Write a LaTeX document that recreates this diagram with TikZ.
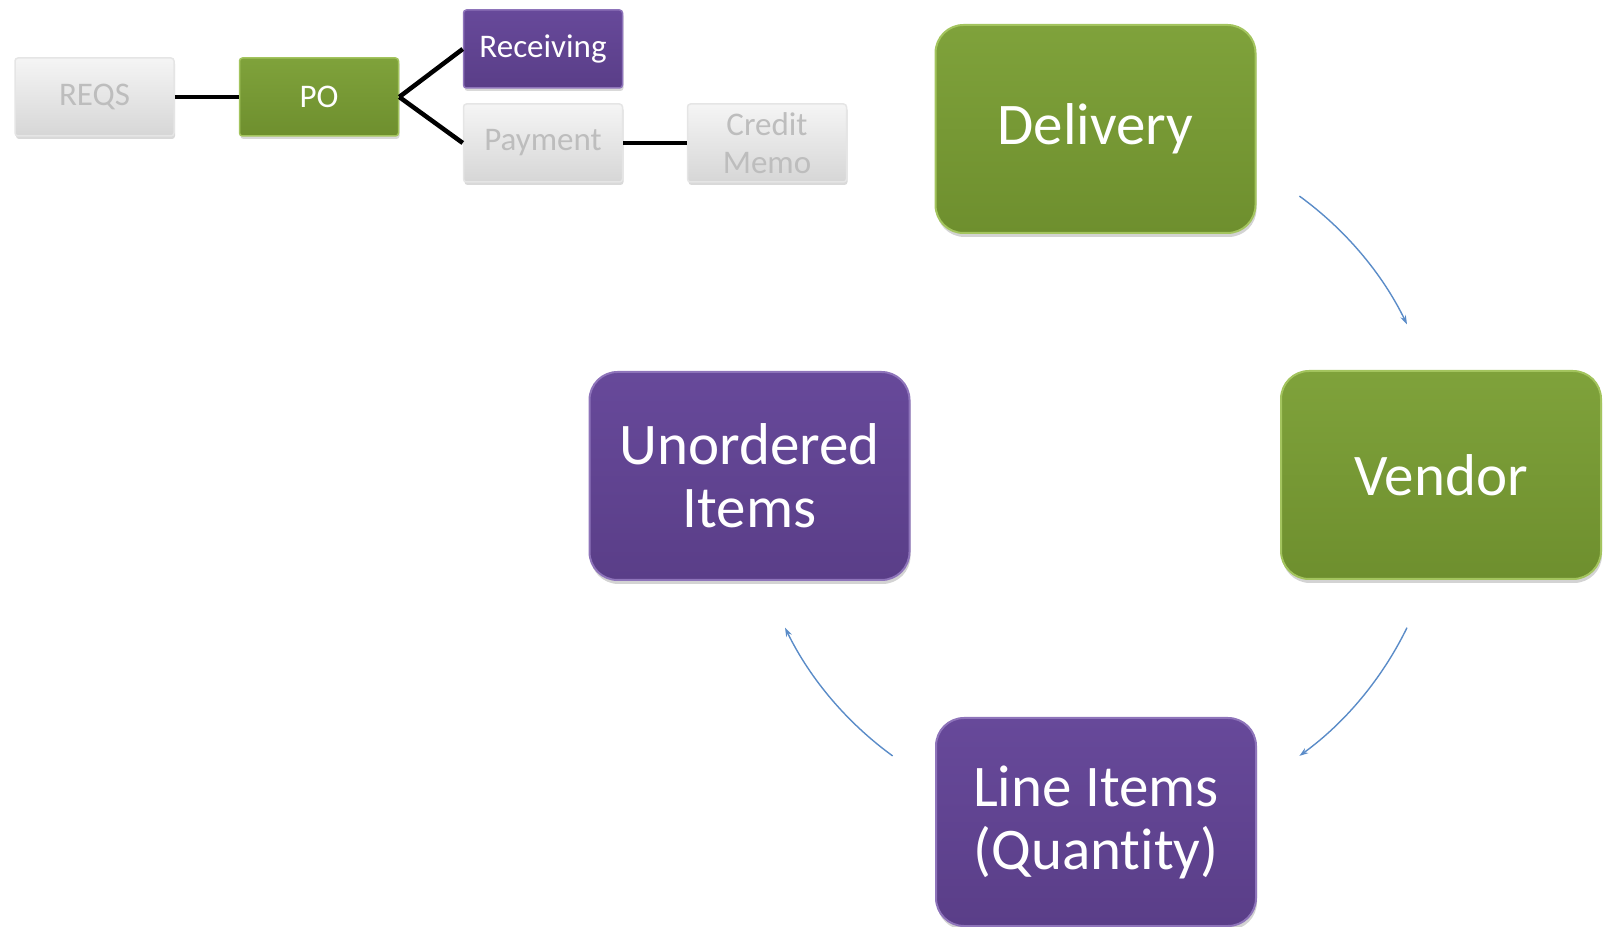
\documentclass[tikz,border=0pt]{standalone}
\usepackage{fontspec}
\setmainfont{Carlito}[Ligatures=NoCommon]
\usetikzlibrary{shadows,arrows.meta}

\definecolor{olivetop}{HTML}{7FA23B}
\definecolor{olivebot}{HTML}{6E8F2E}
\definecolor{oliveedge}{HTML}{A3C45E}
\definecolor{plumtop}{HTML}{67499A}
\definecolor{plumbot}{HTML}{5A3E88}
\definecolor{plumedge}{HTML}{8E74BA}
\definecolor{greytext}{HTML}{BDBDBD}
\definecolor{flowblue}{HTML}{5B8CC8}

\tikzset{
  bigbox/.style={rounded corners=28pt, minimum width=320pt, minimum height=208pt,
    align=center, text=white, line width=2pt, font=\fontsize{59}{63}\selectfont,
    drop shadow={shadow xshift=1pt, shadow yshift=-4pt, opacity=0.35}},
  smallbox/.style={rounded corners=3pt, minimum width=159pt, minimum height=78pt,
    align=center, line width=1.5pt, font=\fontsize{33}{38}\selectfont,
    drop shadow={shadow xshift=1pt, shadow yshift=-3pt, opacity=0.3}},
  greenbox/.style={top color=olivetop, bottom color=olivebot, draw=oliveedge, text=white},
  purplebox/.style={top color=plumtop, bottom color=plumbot, draw=plumedge, text=white},
  greybox/.style={top color=white!96!black, bottom color=white!84!black, draw=white!90!black, text=greytext},
  link/.style={line width=4.5pt, black},
  flow/.style={-{Stealth[length=9pt,width=6pt]}, line width=1.4pt, flowblue}
}

\begin{document}
\begin{tikzpicture}[x=1pt, y=1pt]
  \useasboundingbox (0,0) rectangle (1605,926);

  % document chain
  \node[smallbox, greybox] (reqs) at (94.5,829) {REQS};
  \node[smallbox, greenbox] (po) at (319,829) {PO};
  \node[smallbox, purplebox] (recv) at (543,877) {Receiving};
  \node[smallbox, greybox] (pay) at (543,783) {Payment};
  \node[smallbox, greybox] (memo) at (767,783) {Credit\\Memo};

  \draw[link] (reqs.east) -- (po.west);
  \draw[link] (po.east) -- (recv.west);
  \draw[link] (po.east) -- (pay.west);
  \draw[link] (pay.east) -- (memo.west);

  % receiving cycle
  \coordinate (cyc) at (1096,450);
  \node[bigbox, greenbox] (delivery) at (1095.5,797) {Delivery};
  \node[bigbox, greenbox] (vendor) at (1441,451) {Vendor};
  \node[bigbox, purplebox] (lineitems) at (1096,104) {Line Items\\(Quantity)};
  \node[bigbox, purplebox] (unordered) at (749.5,450) {Unordered\\Items};

  \draw[flow] (cyc) ++(54:346) arc[start angle=54, end angle=26, radius=346];
  \draw[flow] (cyc) ++(-26:346) arc[start angle=-26, end angle=-54, radius=346];
  \draw[flow] (cyc) ++(-126:346) arc[start angle=-126, end angle=-154, radius=346];
\end{tikzpicture}
\end{document}
